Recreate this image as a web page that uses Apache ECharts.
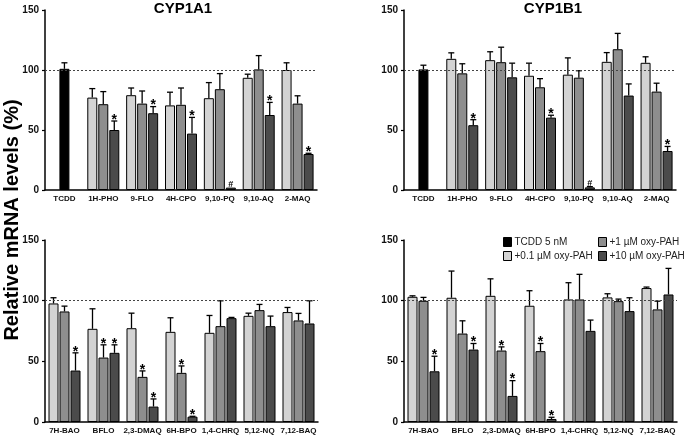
<!DOCTYPE html>
<html><head><meta charset="utf-8">
<script src="https://cdn.jsdelivr.net/npm/echarts/dist/echarts.min.js"></script>
<style>html,body{margin:0;padding:0;background:#fff}#c{width:685px;height:436px}</style>
</head><body><div id="c"></div>
<script>
// ---- categories ----
const catsTop = ['TCDD','1H-PHO','9-FLO','4H-CPO','9,10-PQ','9,10-AQ','2-MAQ'];
const catsBottom = ['7H-BAO','BFLO','2,3-DMAQ','6H-BPO','1,4-CHRQ','5,12-NQ','7,12-BAQ'];
const yTicks = [0, 50, 100, 150];
const seriesNames = ['+0.1 µM oxy-PAH','+1 µM oxy-PAH','+10 µM oxy-PAH'];
const tcddName = 'TCDD 5 nM';

// ---- CYP1A1, top panel (mean, SD) ----
const a1TopTcdd = [101, 5];
const a1TopLow = [77, 79, 70.5, 76.5, 93.5, 100];
const a1TopLowSd = [7.5, 6, 11, 13, 3, 6];
const a1TopMid = [71.5, 72, 71, 84, 100.5, 72];
const a1TopMidSd = [10.5, 10.5, 14, 13, 11.5, 6.5];
const a1TopHigh = [50, 64, 47, 2, 62.5, 30];
const a1TopHighSd = [7.5, 5.5, 13.5, 0, 10.5, 0.6];
const a1TopLowMk = ['', '', '', '', '', ''];
const a1TopMidMk = ['', '', '', '', '', ''];
const a1TopHighMk = ['*', '*', '*', '#', '*', '*'];

// ---- CYP1B1, top panel ----
const b1TopTcdd = [100.5, 3.5];
const b1TopLow = [109.3, 108.2, 95.2, 96.1, 106.8, 106];
const b1TopLowSd = [5, 7, 10.5, 14, 7.7, 5];
const b1TopMid = [97.2, 106.5, 85.6, 93.6, 117.3, 82];
const b1TopMidSd = [8, 12.5, 7.2, 5.8, 13.2, 7];
const b1TopHigh = [54, 93.9, 60.3, 2.2, 78.7, 32.5];
const b1TopHighSd = [4.6, 11.8, 2, 0.6, 9.7, 3.8];
const b1TopLowMk = ['', '', '', '', '', ''];
const b1TopMidMk = ['', '', '', '', '', ''];
const b1TopHighMk = ['*', '', '*', '#', '', '*'];

// ---- CYP1A1, bottom panel ----
const a1BotLow = [97.7, 76.8, 77.3, 74.3, 73.5, 87.5, 90.6];
const a1BotLowSd = [4.7, 16.5, 12.4, 11.6, 14.3, 2.2, 3.8];
const a1BotMid = [91.1, 53.1, 37.2, 40.5, 79, 92.2, 83.7];
const a1BotMidSd = [4.4, 10.5, 4.9, 5.7, 20.9, 4.7, 5.8];
const a1BotHigh = [42.4, 57, 12.7, 4.4, 85.6, 79, 81.2];
const a1BotHighSd = [14.6, 6.6, 6.3, 0.3, 0.6, 8.3, 18.7];
const a1BotLowMk = ['', '', '', '', '', '', ''];
const a1BotMidMk = ['', '*', '*', '*', '', '', ''];
const a1BotHighMk = ['*', '*', '*', '*', '', '', ''];

// ---- CYP1B1, bottom panel ----
const b1BotLow = [103.2, 102.4, 104, 95.8, 101, 102.7, 110.4];
const b1BotLowSd = [0.8, 22, 14, 12.4, 13.8, 3, 0.8];
const b1BotMid = [99.9, 72.9, 58.9, 58.4, 101, 99.6, 92.8];
const b1BotMidSd = [2.8, 10.5, 3, 6.3, 20.7, 1.7, 6.8];
const b1BotHigh = [41.8, 59.7, 21.5, 2.5, 75.1, 91.4, 105.1];
const b1BotHighSd = [12.4, 5, 12.6, 1.4, 8.9, 11, 21.5];
const b1BotLowMk = ['', '', '', '', '', '', ''];
const b1BotMidMk = ['', '', '*', '*', '', '', ''];
const b1BotHighMk = ['*', '*', '*', '*', '', '', ''];

const panels = [
  {cats: catsTop, tcdd: a1TopTcdd, vals: [a1TopLow, a1TopMid, a1TopHigh], sds: [a1TopLowSd, a1TopMidSd, a1TopHighSd], mks: [a1TopLowMk, a1TopMidMk, a1TopHighMk]},
  {cats: catsTop, tcdd: b1TopTcdd, vals: [b1TopLow, b1TopMid, b1TopHigh], sds: [b1TopLowSd, b1TopMidSd, b1TopHighSd], mks: [b1TopLowMk, b1TopMidMk, b1TopHighMk]},
  {cats: catsBottom, tcdd: null, vals: [a1BotLow, a1BotMid, a1BotHigh], sds: [a1BotLowSd, a1BotMidSd, a1BotHighSd], mks: [a1BotLowMk, a1BotMidMk, a1BotHighMk]},
  {cats: catsBottom, tcdd: null, vals: [b1BotLow, b1BotMid, b1BotHigh], sds: [b1BotLowSd, b1BotMidSd, b1BotHighSd], mks: [b1BotLowMk, b1BotMidMk, b1BotHighMk]}
];

const FONT = '"Liberation Sans", Arial, Helvetica, sans-serif';
const BW = 10, GAP = 0.1;
const colors = ['#d3d3d3', '#8e8e8e', '#4b4b4b'];
const gridPos = [
  {left: 45, top: 10, width: 272, height: 180},
  {left: 404, top: 10, width: 272, height: 180},
  {left: 45, top: 240, width: 273, height: 182},
  {left: 404, top: 240, width: 273, height: 182}
];

function makeErr(slot, marks) {
  return function (params, api) {
    const c = api.value(0), m = api.value(1), sd = api.value(2);
    const b = api.coord([c, m]);
    const t = api.coord([c, m + sd]);
    const x = b[0] + slot * BW * (1 + GAP);
    const ch = [];
    if (sd > 0.25) {
      ch.push({type: 'line', shape: {x1: x, y1: b[1], x2: x, y2: t[1]}, style: {stroke: '#000', lineWidth: 1.3}});
      ch.push({type: 'line', shape: {x1: x - 3, y1: t[1], x2: x + 3, y2: t[1]}, style: {stroke: '#000', lineWidth: 1.3}});
    }
    const mk = marks[params.dataIndex];
    if (mk === '*') {
      ch.push({type: 'text', style: {text: '*', x: x, y: t[1] - 8, align: 'center', verticalAlign: 'top', font: 'bold 14px ' + FONT, fill: '#000'}});
    } else if (mk === '#') {
      ch.push({type: 'text', style: {text: '#', x: x, y: t[1] + 1, align: 'center', verticalAlign: 'bottom', font: 'bold 9px ' + FONT, fill: '#000'}});
    }
    return {type: 'group', children: ch};
  };
}

const grid = [], xAxis = [], yAxis = [], series = [];
panels.forEach((p, gi) => {
  grid.push(gridPos[gi]);
  xAxis.push({type: 'category', gridIndex: gi, data: p.cats,
    axisLine: {lineStyle: {color: '#000', width: 1.5}}, axisTick: {show: false},
    axisLabel: {interval: 0, fontSize: 8, fontWeight: 'bold', fontFamily: FONT, color: '#111', margin: 5}});
  yAxis.push({type: 'value', gridIndex: gi, min: yTicks[0], max: yTicks[yTicks.length - 1], interval: 50,
    axisLine: {show: true, lineStyle: {color: '#000', width: 1.5}},
    axisTick: {show: true, length: 3, lineStyle: {color: '#000', width: 1.2}},
    splitLine: {show: false},
    axisLabel: {fontSize: 10, fontWeight: 'bold', fontFamily: FONT, color: '#111', margin: 6}});
  const off = p.tcdd ? 1 : 0;
  [0, 1, 2].forEach(k => {
    let data = p.vals[k].slice();
    const eData = p.vals[k].map((v, i) => [i + off, v, p.sds[k][i]]);
    const eMarks = p.mks[k].slice();
    if (p.tcdd) {
      if (k === 1) {
        data.unshift({value: p.tcdd[0], itemStyle: {color: '#000'}});
        eData.unshift([0, p.tcdd[0], p.tcdd[1]]);
        eMarks.unshift('');
      } else {
        data.unshift(null);
      }
    }
    series.push({type: 'bar', name: seriesNames[k], xAxisIndex: gi, yAxisIndex: gi, data: data,
      barWidth: BW, barGap: (GAP * 100) + '%', z: 2, animation: false,
      itemStyle: {color: colors[k], borderColor: '#000', borderWidth: 1}});
    series.push({type: 'custom', xAxisIndex: gi, yAxisIndex: gi, data: eData, z: 3, animation: false,
      renderItem: makeErr(k - 1, eMarks)});
  });
  series.push({type: 'custom', name: tcddName, xAxisIndex: gi, yAxisIndex: gi, data: [], z: 1,
    itemStyle: {color: '#000'}, renderItem: function () { return null; }, animation: false,
    markLine: {silent: true, symbol: 'none', animation: false, label: {show: false},
      lineStyle: {type: [2, 2], color: '#444', width: 1}, data: [{yAxis: 100}]}});
});

const legendCommon = {orient: 'vertical', selectedMode: false, itemWidth: 8, itemHeight: 9, itemGap: 4,
  padding: 0, textStyle: {fontSize: 10, fontFamily: FONT, color: '#222', padding: [0, 0, 0, -2]}};
const legItem = (name, color) => ({name: name, icon: 'rect', itemStyle: {color: color, borderColor: '#000', borderWidth: 1}});

const option = {
  backgroundColor: '#fff',
  animation: false,
  title: [
    {text: 'CYP1A1', left: 183, top: 1, textAlign: 'center', padding: 0, textStyle: {fontSize: 15, fontWeight: 'bold', fontFamily: FONT, color: '#000'}},
    {text: 'CYP1B1', left: 553, top: 1, textAlign: 'center', padding: 0, textStyle: {fontSize: 15, fontWeight: 'bold', fontFamily: FONT, color: '#000'}}
  ],
  legend: [
    Object.assign({left: 503, top: 237, data: [legItem(tcddName, '#000'), legItem(seriesNames[0], colors[0])]}, legendCommon),
    Object.assign({left: 598, top: 237, data: [legItem(seriesNames[1], colors[1]), legItem(seriesNames[2], colors[2])]}, legendCommon)
  ],
  graphic: [{type: 'text', x: 12, y: 220, rotation: Math.PI / 2,
    style: {text: 'Relative mRNA levels (%)', font: 'bold 20px ' + FONT, align: 'center', verticalAlign: 'middle', fill: '#000'}}],
  grid: grid, xAxis: xAxis, yAxis: yAxis, series: series
};
const chart = echarts.init(document.getElementById('c'), null, {renderer: 'canvas'});
chart.setOption(option);
</script>
</body></html>
